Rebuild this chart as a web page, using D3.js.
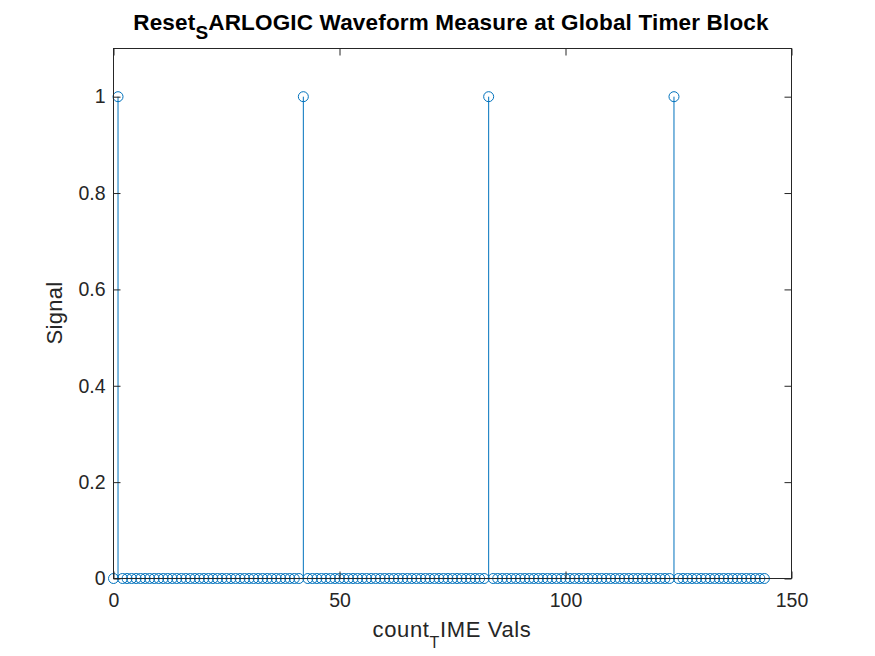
<!DOCTYPE html>
<html><head><meta charset="utf-8">
<script src="https://cdn.jsdelivr.net/npm/d3@7"></script>
<style>body{margin:0;background:#fff}svg{display:block}text{font-family:"Liberation Sans",Arial,sans-serif}</style>
</head><body><svg id="c" width="875" height="656"></svg>
<script>
const xTicks = [0, 50, 100, 150];
const yTicks = [0, 0.2, 0.4, 0.6, 0.8, 1];
const xDomain = [0, 150];
const yDomain = [0, 1.1];
// signal sampled at count_TIME = 0..144
const signal = [
  0, 1,
  0,0,0,0,0,0,0,0,0,0, 0,0,0,0,0,0,0,0,0,0, 0,0,0,0,0,0,0,0,0,0, 0,0,0,0,0,0,0,0,0,0,
  1,
  0,0,0,0,0,0,0,0,0,0, 0,0,0,0,0,0,0,0,0,0, 0,0,0,0,0,0,0,0,0,0, 0,0,0,0,0,0,0,0,0,0,
  1,
  0,0,0,0,0,0,0,0,0,0, 0,0,0,0,0,0,0,0,0,0, 0,0,0,0,0,0,0,0,0,0, 0,0,0,0,0,0,0,0,0,0,
  1,
  0,0,0,0,0,0,0,0,0,0, 0,0,0,0,0,0,0,0,0,0
];
const data = signal.map((v, i) => ({x: i, y: v}));

const svg = d3.select("#c");
const L = 113.5, R = 791.5, T = 48.5, B = 578.5;
const x = d3.scaleLinear().domain(xDomain).range([L, R]);
const y = d3.scaleLinear().domain(yDomain).range([B, T]);
const axCol = "#262626", col = "#0072BD", tl = 7;
const FONT = '"Liberation Sans",Arial,sans-serif';

// stems
svg.append("g").selectAll("line").data(data).join("line")
  .attr("x1", d => x(d.x)).attr("x2", d => x(d.x))
  .attr("y1", y(0)).attr("y2", d => y(d.y))
  .attr("stroke", col).attr("stroke-width", 1);
// markers
svg.append("g").selectAll("circle").data(data).join("circle")
  .attr("cx", d => x(d.x)).attr("cy", d => y(d.y)).attr("r", 5)
  .attr("fill", "none").attr("stroke", col).attr("stroke-width", 1);

// axes with inward ticks
const g = svg.append("g");
g.append("g").attr("transform", `translate(0,${B})`)
  .call(d3.axisBottom(x).tickValues(xTicks).tickSizeInner(-tl).tickSizeOuter(0).tickPadding(15).tickFormat(d3.format("d")));
g.append("g").attr("transform", `translate(0,${T})`)
  .call(d3.axisTop(x).tickValues(xTicks).tickSizeInner(-tl).tickSizeOuter(0).tickFormat(""));
g.append("g").attr("transform", `translate(${L},0)`)
  .call(d3.axisLeft(y).tickValues(yTicks).tickSizeInner(-tl).tickSizeOuter(0).tickPadding(8).tickFormat(d => d3.format("~g")(d)));
g.append("g").attr("transform", `translate(${R},0)`)
  .call(d3.axisRight(y).tickValues(yTicks).tickSizeInner(-tl).tickSizeOuter(0).tickFormat(""));
g.selectAll(".domain").remove();
g.selectAll(".tick line").attr("stroke", axCol).attr("stroke-width", 1);
g.selectAll(".tick text").attr("fill", axCol).attr("font-size", 19.5).attr("font-family", FONT);

// box
svg.append("rect").attr("x", L).attr("y", T).attr("width", R - L).attr("height", B - T)
  .attr("fill", "none").attr("stroke", axCol).attr("stroke-width", 1);

function fitWidth(sel, target) {
  const n = sel.text().length;
  const w = sel.node().getBBox().width;
  sel.attr("letter-spacing", ((target - w) / n).toFixed(2));
}

// title
const t = svg.append("text").attr("x", 451).attr("y", 29.5).attr("text-anchor", "middle")
  .attr("font-size", 22.5).attr("font-weight", "bold").attr("fill", "#000");
t.append("tspan").text("Reset");
t.append("tspan").attr("dy", 9.5).attr("font-size", 19).text("S");
t.append("tspan").attr("dy", -9.5).text("ARLOGIC Waveform Measure at Global Timer Block");
fitWidth(t, 636);

// x label
const xl = svg.append("text").attr("x", 452).attr("y", 637).attr("text-anchor", "middle")
  .attr("font-size", 22).attr("fill", axCol);
xl.append("tspan").text("count");
xl.append("tspan").attr("dy", 11).attr("font-size", 16).text("T");
xl.append("tspan").attr("dy", -11).text("IME Vals");
fitWidth(xl, 159);

// y label
const yl = svg.append("text").attr("transform", "translate(62,313) rotate(-90)").attr("text-anchor", "middle")
  .attr("font-size", 22).attr("fill", axCol).text("Signal");
fitWidth(yl, 63);
</script></body></html>
